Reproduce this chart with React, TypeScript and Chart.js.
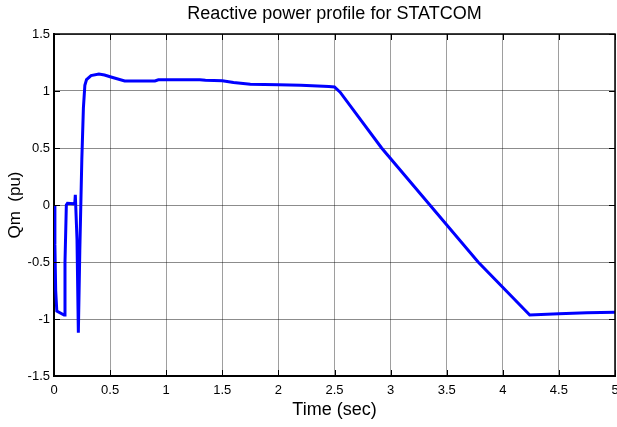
import React, { useEffect, useRef } from "react";
import { Chart, registerables } from "chart.js";

Chart.register(...registerables);

const chartTitle = "Reactive power profile for STATCOM";
const xAxisTitle = "Time (sec)";
const yAxisTitle = "Qm  (pu)";

const xTicks = [0, 0.5, 1, 1.5, 2, 2.5, 3, 3.5, 4, 4.5, 5];
const yTicks = [-1.5, -1, -0.5, 0, 0.5, 1, 1.5];

const timeSec = [
  0, 0.008, 0.015, 0.025, 0.09, 0.098, 0.11, 0.12, 0.185, 0.19, 0.205, 0.217,
  0.23, 0.248, 0.262, 0.275, 0.29, 0.33, 0.4, 0.45, 0.5, 0.63, 0.9, 0.93, 1.3,
  1.35, 1.5, 1.6, 1.75, 2.0, 2.2, 2.45, 2.5, 2.55, 2.92, 3.35, 3.78, 4.24, 4.5,
  4.75, 5.0,
];
const qmPu = [
  0, -0.35, -0.75, -0.93, -0.965, -0.5, 0.0, 0.015, 0.01, 0.09, -0.3, -1.12,
  -0.4, 0.4, 0.85, 1.05, 1.1, 1.135, 1.148, 1.14, 1.125, 1.088, 1.088, 1.098,
  1.098, 1.095, 1.09, 1.075, 1.06, 1.055, 1.05, 1.04, 1.035, 0.99, 0.5, 0.0,
  -0.5, -0.965, -0.955, -0.945, -0.94,
];

const fontFamily = "'Liberation Sans', Arial, Helvetica, sans-serif";

const framePlugin = {
  id: "frameTicks",
  afterDraw(chart: any) {
    const { ctx, chartArea } = chart;
    const { left, right, top, bottom } = chartArea;
    const xs = chart.scales.x;
    const ys = chart.scales.y;
    ctx.save();
    ctx.strokeStyle = "#000";
    ctx.lineWidth = 1;
    ctx.beginPath();
    for (const t of xTicks) {
      const px = Math.round(xs.getPixelForValue(t)) + 0.5;
      ctx.moveTo(px, bottom);
      ctx.lineTo(px, bottom - 6);
      ctx.moveTo(px, top);
      ctx.lineTo(px, top + 6);
    }
    for (const t of yTicks) {
      const py = Math.round(ys.getPixelForValue(t)) + 0.5;
      ctx.moveTo(left, py);
      ctx.lineTo(left + 6, py);
      ctx.moveTo(right, py);
      ctx.lineTo(right - 6, py);
    }
    ctx.stroke();
    ctx.lineWidth = 1.5;
    ctx.beginPath();
    ctx.moveTo(left, top);
    ctx.lineTo(right, top);
    ctx.lineTo(right, bottom);
    ctx.stroke();
    ctx.restore();
  },
};

export default function App() {
  const ref = useRef<HTMLCanvasElement | null>(null);

  useEffect(() => {
    if (!ref.current) return;
    Chart.defaults.font.family = fontFamily;
    const chart = new Chart(ref.current, {
      type: "line",
      data: {
        datasets: [
          {
            data: timeSec.map((t, i) => ({ x: t, y: qmPu[i] })),
            borderColor: "#0000ff",
            borderWidth: 3,
            pointRadius: 0,
            tension: 0,
            fill: false,
          },
        ],
      },
      options: {
        animation: false,
        responsive: false,
        devicePixelRatio: 1,
        layout: { padding: { top: 0, right: 2, left: 0, bottom: 0 } },
        plugins: {
          legend: { display: false },
          tooltip: { enabled: false },
          title: {
            display: true,
            fullSize: false,
            text: chartTitle,
            color: "#000",
            font: { size: 18, weight: "normal" },
            padding: { top: 3, bottom: 9.4 },
          },
        },
        scales: {
          x: {
            type: "linear",
            min: 0,
            max: 5,
            afterBuildTicks: (s: any) => {
              s.ticks = xTicks.map((v) => ({ value: v }));
            },
            afterFit: (s: any) => {
              s.height = 51;
              s.paddingLeft = 0;
              s.paddingRight = 0;
            },
            ticks: {
              color: "#000",
              font: { size: 13 },
              padding: 7,
              maxRotation: 0,
              autoSkip: false,
              callback: (v: any) => String(v),
            },
            grid: { color: "rgba(0,0,0,0.38)", drawTicks: false },
            border: { color: "#000", width: 2 },
            title: {
              display: true,
              text: xAxisTitle,
              color: "#000",
              font: { size: 18 },
              padding: { top: 0, bottom: 6 },
            },
          },
          y: {
            type: "linear",
            min: -1.5,
            max: 1.5,
            afterBuildTicks: (s: any) => {
              s.ticks = yTicks.map((v) => ({ value: v }));
            },
            afterFit: (s: any) => {
              s.width = 54;
              s.paddingTop = 0;
              s.paddingBottom = 0;
            },
            ticks: {
              color: "#000",
              font: { size: 13 },
              padding: 4,
              autoSkip: false,
              callback: (v: any) => String(v),
            },
            grid: { color: "rgba(0,0,0,0.45)", drawTicks: false },
            border: { color: "#000", width: 2 },
            title: {
              display: true,
              text: yAxisTitle,
              color: "#000",
              font: { size: 17 },
              padding: { top: 5, bottom: 0 },
            },
          },
        },
      },
      plugins: [framePlugin],
    });
    return () => chart.destroy();
  }, []);

  return (
    <div style={{ position: "absolute", left: 0, top: 0, width: 617, height: 427, background: "#fff" }}>
      <canvas ref={ref} width={617} height={427} style={{ width: 617, height: 427 }} />
    </div>
  );
}
